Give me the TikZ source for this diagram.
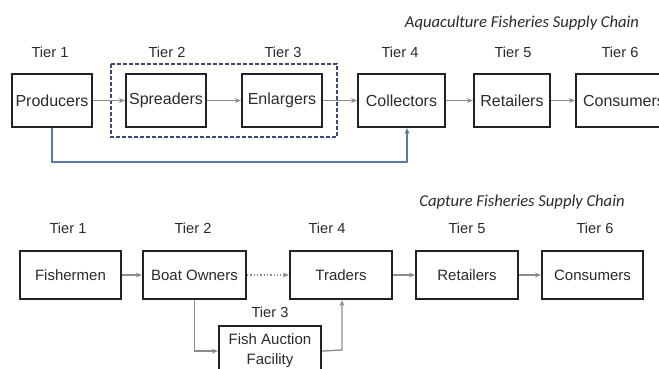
\documentclass[tikz,border=0pt]{standalone}
\usepackage{fontspec}
\setmainfont{Liberation Sans}
\newfontfamily\titlefont{Carlito}
\usetikzlibrary{arrows.meta,calc}
\definecolor{boxline}{HTML}{222222}
\definecolor{txt}{HTML}{2B2B2B}
\definecolor{flow}{HTML}{8C8C8C}
\definecolor{bluelink}{HTML}{5B78A8}
\definecolor{groupline}{HTML}{3A4A78}
\tikzset{
  stage/.style={draw=boxline, line width=2.2pt, fill=white, text=txt,
    minimum height=53pt, inner sep=0pt, font=\fontsize{16}{18}\selectfont},
  stagelow/.style={stage, minimum height=48pt, minimum width=102pt,
    font=\fontsize{15}{20}\selectfont},
  tier/.style={text=txt, inner sep=0pt, font=\fontsize{14.6}{16}\selectfont},
  chaintitle/.style={text=txt, inner sep=0pt, font=\titlefont\itshape\fontsize{16.6}{18}\selectfont},
  flowarrow/.style={draw=flow, line width=1.3pt,
    -{Stealth[length=6pt,width=5pt]}},
}
\begin{document}
\begin{tikzpicture}[x=1pt,y=-1pt]
\useasboundingbox (0,0) rectangle (659,369);
\fill[white] (0,0) rectangle (659,369);
\clip (0,0) rectangle (659,369);

% ---- aquaculture chain ----
\node[chaintitle] (t1) at (522,23) {Aquaculture Fisheries Supply Chain};
\node[tier] (a1) at (50,52) {Tier 1};
\node[tier] (a2) at (167,52) {Tier 2};
\node[tier] (a3) at (283,52) {Tier 3};
\node[tier] (a4) at (400,52) {Tier 4};
\node[tier] (a5) at (513,52) {Tier 5};
\node[tier] (a6) at (620,52) {Tier 6};

\draw[groupline, line width=1.3pt, dashed, dash pattern=on 4pt off 2pt]
  (111,64) rectangle (337,137);

\node[stage, minimum width=80pt] (prod) at (52,100.5) {Producers};
\node[stage, minimum width=80pt] (spr) at (166,100.5) {Spreaders};
\node[stage, minimum width=80pt] (enl) at (282,100.5) {Enlargers};
\node[stage, minimum width=87pt] (col) at (401.5,100.5) {Collectors};
\node[stage, minimum width=76pt] (ret) at (512,100.5) {Retailers};
\node[stage, minimum width=96pt] (con) at (624,100.5) {Consumers};

\draw[flowarrow] (prod) -- (spr);
\draw[flowarrow] (spr) -- (enl);
\draw[flowarrow] (enl) -- (col);
\draw[flowarrow] (col) -- (ret);
\draw[flowarrow] (ret) -- (con);

\coordinate (bend) at (407,162);
\draw[flowarrow, draw=bluelink] (prod.south) |- (bend) -- (bend |- col.south);

% ---- capture chain ----
\node[chaintitle] (t2) at (522,202) {Capture Fisheries Supply Chain};
\node[tier] (b1) at (68,228) {Tier 1};
\node[tier] (b2) at (193,228) {Tier 2};
\node[tier] (b4) at (327,228) {Tier 4};
\node[tier] (b5) at (467,228) {Tier 5};
\node[tier] (b6) at (595,228) {Tier 6};
\node[tier] (b3) at (270,312) {Tier 3};

\node[stagelow, minimum width=101pt] (fish) at (70.5,275) {Fishermen};
\node[stagelow, minimum width=103pt] (boat) at (194.5,275) {Boat Owners};
\node[stagelow] (trad) at (341,275) {Traders};
\node[stagelow] (ret2) at (467,275) {Retailers};
\node[stagelow, minimum width=101pt] (con2) at (592.5,275) {Consumers};
\node[stagelow, minimum height=50pt, align=center, anchor=north] (auc) at (270,325)
  {Fish Auction\\Facility};

\draw[flowarrow] (fish) -- (boat);
\draw[flowarrow, dotted] (boat) -- (trad);
\draw[flowarrow] (trad) -- (ret2);
\draw[flowarrow] (ret2) -- (con2);
\draw[flowarrow] (boat.south) |- (auc.west);
\coordinate (rise) at (342,350);
\draw[flowarrow] (auc.east) -- (rise) -- (rise |- trad.south);
\end{tikzpicture}
\end{document}
